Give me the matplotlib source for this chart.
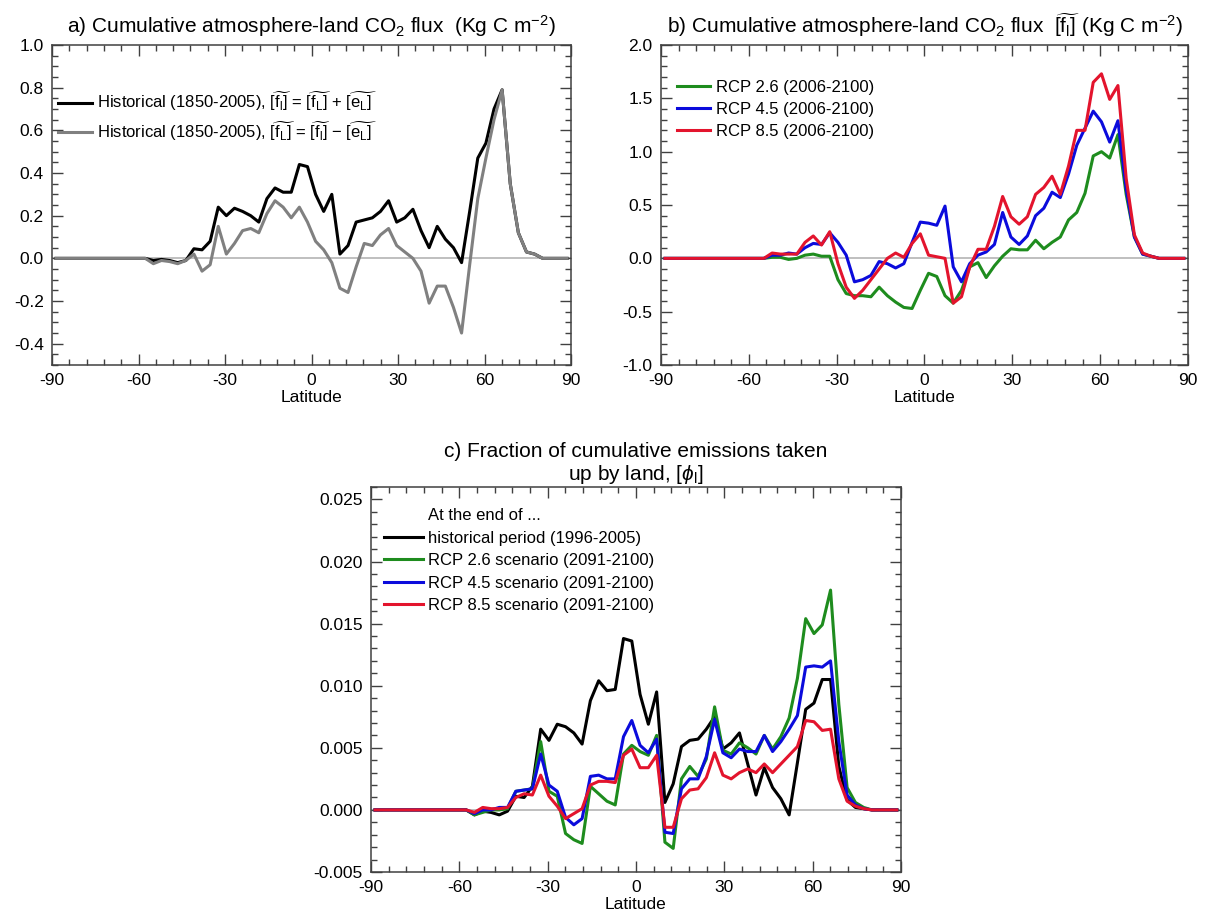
import numpy as np
import matplotlib
matplotlib.use("Agg")
import matplotlib.pyplot as plt
from matplotlib.ticker import MultipleLocator, FixedLocator, FormatStrFormatter

plt.rcParams['font.family'] = ['Liberation Sans', 'DejaVu Sans']
plt.rcParams['mathtext.fontset'] = 'custom'
plt.rcParams['mathtext.rm'] = 'Liberation Sans'
plt.rcParams['mathtext.it'] = 'Liberation Sans:italic'
plt.rcParams['mathtext.bf'] = 'Liberation Sans:bold'
plt.rcParams['axes.unicode_minus'] = False

# latitude grid of the model (~2.8 deg)
lat = np.linspace(-88.6, 88.6, 64)

# a) cumulative flux, historical (Kg C m-2)
hist_fl = [0]*11 + [0.0, -0.01, -0.005, -0.01, -0.02, -0.01, 0.045, 0.04, 0.08,
    0.24, 0.20, 0.235, 0.22, 0.20, 0.17, 0.28, 0.33, 0.31, 0.31, 0.44, 0.43,
    0.30, 0.22, 0.30, 0.02, 0.06, 0.17, 0.18, 0.19, 0.22, 0.27, 0.17, 0.19,
    0.23, 0.13, 0.05, 0.15, 0.09, 0.05, -0.02, 0.22, 0.47, 0.54, 0.70, 0.79,
    0.35, 0.12, 0.03, 0.02, 0.0, 0, 0, 0]
hist_fL = [0]*11 + [0.0, -0.025, -0.01, -0.015, -0.025, -0.01, 0.02, -0.06, -0.03,
    0.15, 0.02, 0.07, 0.13, 0.14, 0.12, 0.21, 0.27, 0.24, 0.19, 0.24, 0.17,
    0.08, 0.04, -0.02, -0.14, -0.16, -0.04, 0.07, 0.06, 0.11, 0.14, 0.06, 0.03,
    0.00, -0.06, -0.21, -0.13, -0.13, -0.23, -0.35, -0.03, 0.28, 0.47, 0.65, 0.79,
    0.35, 0.12, 0.03, 0.02, 0.0, 0, 0, 0]

# b) cumulative flux, RCP scenarios 2006-2100
rcp26_b = [0]*13 + [0.01, 0.01, -0.01, 0.0, 0.03, 0.04, 0.02, 0.02, -0.2, -0.33,
    -0.35, -0.35, -0.36, -0.27, -0.35, -0.41, -0.46, -0.47, -0.3, -0.14, -0.17,
    -0.35, -0.42, -0.3, -0.08, -0.04, -0.18, -0.07, 0.02, 0.09, 0.08, 0.08, 0.17,
    0.09, 0.15, 0.2, 0.36, 0.43, 0.61, 0.96, 1.0, 0.94, 1.16, 0.6, 0.2, 0.04,
    0.02, 0, 0, 0, 0]
rcp45_b = [0]*13 + [0.03, 0.03, 0.05, 0.04, 0.1, 0.14, 0.13, 0.24, 0.15, 0.03,
    -0.22, -0.2, -0.16, -0.03, -0.05, -0.09, -0.05, 0.15, 0.34, 0.33, 0.31,
    0.49, -0.08, -0.22, -0.05, 0.03, 0.06, 0.13, 0.43, 0.2, 0.13, 0.21, 0.4,
    0.47, 0.62, 0.57, 0.79, 1.06, 1.22, 1.38, 1.28, 1.09, 1.29, 0.65, 0.2, 0.04,
    0.02, 0, 0, 0, 0]
rcp85_b = [0]*13 + [0.05, 0.04, 0.04, 0.04, 0.15, 0.21, 0.125, 0.25, -0.05, -0.27,
    -0.375, -0.3, -0.2, -0.1, 0.0, 0.05, 0.01, 0.14, 0.23, 0.03, 0.015, 0.0,
    -0.42, -0.36, -0.08, 0.085, 0.085, 0.3, 0.58, 0.39, 0.32, 0.39, 0.6, 0.665,
    0.77, 0.6, 0.865, 1.2, 1.2, 1.65, 1.73, 1.49, 1.62, 0.75, 0.22, 0.05, 0.02,
    0, 0, 0, 0]

# c) fraction of cumulative emissions taken up by land
hist_c = [0]*12 + [-0.0004, -0.0001, -0.0002, -0.0004, -0.0001, 0.0011, 0.001, 0.0019,
    0.0065, 0.0056, 0.0069, 0.0067, 0.0062, 0.0053, 0.0088, 0.0104, 0.0096, 0.0097,
    0.0138, 0.0136, 0.0093, 0.0069, 0.0095, 0.0006, 0.0021, 0.0051, 0.0056, 0.0057,
    0.0065, 0.0075, 0.0049, 0.0054, 0.0062, 0.0037, 0.0012, 0.0034, 0.0018, 0.0009,
    -0.0004, 0.0038, 0.0081, 0.0086, 0.0105, 0.0105, 0.0035, 0.0008, 0.0002, 0.0001,
    0, 0, 0, 0]
rcp26_c = [0]*12 + [-0.0004, -0.0002, 0.0, 0.0, 0.0001, 0.0015, 0.0016, 0.0017,
    0.0055, 0.0015, 0.0011, -0.0019, -0.0024, -0.0027, 0.0019, 0.0013, 0.0007, 0.0004,
    0.0045, 0.0052, 0.0047, 0.0044, 0.006, -0.0026, -0.0031, 0.0025, 0.0035, 0.0027,
    0.0041, 0.0083, 0.0048, 0.0045, 0.0054, 0.005, 0.0045, 0.006, 0.0049, 0.0059,
    0.0074, 0.0106, 0.0154, 0.0142, 0.0149, 0.0177, 0.0085, 0.0018, 0.0006, 0.0002,
    0, 0, 0, 0]
rcp45_c = [0]*12 + [-0.0003, 0.0, 0.0, 0.0002, 0.0002, 0.0015, 0.0016, 0.0017,
    0.0045, 0.002, 0.0015, -0.0006, -0.0012, -0.0007, 0.0027, 0.0028, 0.0025, 0.0025,
    0.0059, 0.0072, 0.0052, 0.0046, 0.0057, -0.0018, -0.0019, 0.0017, 0.0025, 0.0025,
    0.0043, 0.0073, 0.0046, 0.0042, 0.0049, 0.0047, 0.0047, 0.006, 0.0047, 0.0055,
    0.0065, 0.0076, 0.0115, 0.0116, 0.0115, 0.012, 0.0055, 0.0012, 0.0004, 0.0001,
    0, 0, 0, 0]
rcp85_c = [0]*12 + [-0.0002, 0.0002, 0.0001, 0.0001, 0.0002, 0.001, 0.0013, 0.0012,
    0.0028, 0.0011, 0.0003, -0.0007, -0.0003, 0.0001, 0.002, 0.0023, 0.0023, 0.0022,
    0.0044, 0.0049, 0.0034, 0.0034, 0.0044, -0.0014, -0.0014, 0.0009, 0.0016, 0.0017,
    0.0026, 0.0046, 0.0028, 0.0025, 0.003, 0.0033, 0.003, 0.0037, 0.003, 0.0037,
    0.0044, 0.0051, 0.0072, 0.0071, 0.0064, 0.0065, 0.0025, 0.0007, 0.0003, 0.0001,
    0, 0, 0, 0]

xticks = [-90, -60, -30, 0, 30, 60, 90]

GREEN = '#1e8c1e'
BLUE = '#0b0bdc'
RED = '#e3142d'
GRAY = '#808080'
LW = 2.2


def style_axes(ax, ylim, yticks, yminor, fmt):
    ax.axhline(0, color='#b4b4b4', lw=1.2, zorder=1)
    ax.set_xlim(-90, 90)
    ax.set_ylim(*ylim)
    ax.xaxis.set_major_locator(FixedLocator(xticks))
    ax.xaxis.set_minor_locator(MultipleLocator(6))
    ax.yaxis.set_major_locator(FixedLocator(yticks))
    ax.yaxis.set_minor_locator(MultipleLocator(yminor))
    ax.yaxis.set_major_formatter(FormatStrFormatter(fmt))
    ax.tick_params(which='both', direction='in', top=True, right=True,
                   color='#404040', labelsize=12.5, pad=6)
    ax.tick_params(which='major', length=8, width=1)
    ax.tick_params(which='minor', length=4, width=1)
    for s in ax.spines.values():
        s.set_color('#404040')
        s.set_linewidth(1.1)
    ax.set_xlabel('Latitude', fontsize=12.5, labelpad=1)


fig = plt.figure(figsize=(12.15, 9.11), dpi=100)

# panel a
ax1 = fig.add_axes([0.0428, 0.5993, 0.4272, 0.3513])
ax1.plot(lat, hist_fl, color='black', lw=LW, zorder=3,
         label=r'Historical (1850-2005), $\widetilde{[\mathrm{f}_\mathrm{l}]}$ = '
               r'$\widetilde{[\mathrm{f}_\mathrm{L}]}$ + $\widetilde{[\mathrm{e}_\mathrm{L}]}$')
ax1.plot(lat, hist_fL, color=GRAY, lw=LW, zorder=4,
         label=r'Historical (1850-2005), $\widetilde{[\mathrm{f}_\mathrm{L}]}$ = '
               r'$\widetilde{[\mathrm{f}_\mathrm{l}]}$ $-$ $\widetilde{[\mathrm{e}_\mathrm{L}]}$')
style_axes(ax1, (-0.5, 1.0), [-0.4, -0.2, 0.0, 0.2, 0.4, 0.6, 0.8, 1.0], 0.05, '%.1f')
ax1.set_title(r'a) Cumulative atmosphere-land CO$_2$ flux  (Kg C m$^{-2}$)',
              fontsize=15, pad=9)
ax1.legend(loc='upper left', bbox_to_anchor=(0.012, 0.86), frameon=False,
           fontsize=12, handlelength=2.0, handletextpad=0.35, labelspacing=0.35,
           borderpad=0, borderaxespad=0)

# panel b
ax2 = fig.add_axes([0.544, 0.5993, 0.4337, 0.3513])
ax2.plot(lat, rcp26_b, color=GREEN, lw=LW, zorder=3, label='RCP 2.6 (2006-2100)')
ax2.plot(lat, rcp45_b, color=BLUE, lw=LW, zorder=4, label='RCP 4.5 (2006-2100)')
ax2.plot(lat, rcp85_b, color=RED, lw=LW, zorder=5, label='RCP 8.5 (2006-2100)')
style_axes(ax2, (-1.0, 2.0), [-1.0, -0.5, 0.0, 0.5, 1.0, 1.5, 2.0], 0.1, '%.1f')
ax2.set_title(r'b) Cumulative atmosphere-land CO$_2$ flux  '
              r'$\widetilde{[\mathrm{f}_\mathrm{l}]}$ (Kg C m$^{-2}$)',
              fontsize=15, pad=9)
ax2.legend(loc='upper left', bbox_to_anchor=(0.03, 0.89), frameon=False,
           fontsize=12, handlelength=2.0, handletextpad=0.35, labelspacing=0.4,
           borderpad=0, borderaxespad=0)

# panel c
ax3 = fig.add_axes([0.3053, 0.0428, 0.4362, 0.4226])
ax3.plot([], [], color='none', label='At the end of ...')
ax3.plot(lat, hist_c, color='black', lw=LW, zorder=3, label='historical period (1996-2005)')
ax3.plot(lat, rcp26_c, color=GREEN, lw=LW, zorder=4, label='RCP 2.6 scenario (2091-2100)')
ax3.plot(lat, rcp45_c, color=BLUE, lw=LW, zorder=5, label='RCP 4.5 scenario (2091-2100)')
ax3.plot(lat, rcp85_c, color=RED, lw=LW, zorder=6, label='RCP 8.5 scenario (2091-2100)')
style_axes(ax3, (-0.005, 0.026),
           [-0.005, 0.0, 0.005, 0.010, 0.015, 0.020, 0.025], 0.001, '%.3f')
ax3.set_title('c) Fraction of cumulative emissions taken\nup by land, '
              r'[$\phi_\mathrm{l}$]', fontsize=15, pad=5, linespacing=1.15)
ax3.legend(loc='upper left', bbox_to_anchor=(0.025, 0.945), frameon=False,
           fontsize=12, handlelength=2.3, handletextpad=0.35, labelspacing=0.45,
           borderpad=0, borderaxespad=0)

fig.savefig('out.png', dpi=100)
